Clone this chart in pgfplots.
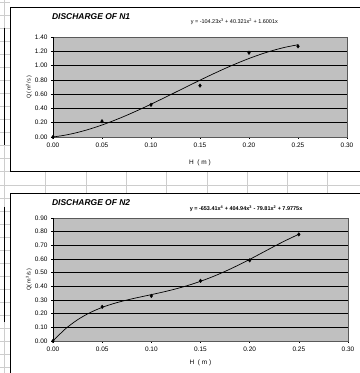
\documentclass[border=0pt]{standalone}
\usepackage{pgfplots}
\pgfplotsset{compat=1.18}
\usepackage{fontspec}
\setmainfont{Liberation Sans}
\definecolor{plotgray}{RGB}{192,192,192}
\definecolor{sheetgrid}{RGB}{205,205,205}
\pgfplotsset{
  excel/.style={
    scale only axis,
    axis background/.style={fill=plotgray},
    axis line style={draw=gray!70!black, line width=0.6bp},
    xmin=0, xmax=0.3,
    xtick={0,0.05,0.1,0.15,0.2,0.25,0.3},
    ymajorgrids,
    major grid style={black, line width=0.5bp},
    tick style={black, line width=0.5bp},
    tick align=outside,
    major tick length=2bp,
    xtick pos=bottom, ytick pos=left,
    ticklabel style={font=\fontsize{6.5}{7}\selectfont},
    /pgf/number format/assume math mode=true,
    /pgf/number format/.cd, fixed, fixed zerofill, precision=2,
    /pgfplots/.cd,
    xlabel={H \ ( m )},
    xlabel style={font=\fontsize{6.5}{7}\selectfont},
    ylabel style={font=\fontsize{5.5}{6}\selectfont},
    clip=false,
  },
  pts/.style={only marks, mark=diamond*, mark size=1.8bp, black},
  trend/.style={black, line width=0.7bp, no markers, smooth},
}
\begin{document}
\begin{tikzpicture}[x=1bp,y=1bp]
\useasboundingbox (0,0) rectangle (360,373);
\fill[white] (0,0) rectangle (360,373);
% spreadsheet grid
\begin{scope}[draw=sheetgrid, line width=0.6bp]
  \foreach \x in {45,86,126,166,207,247,287,327}
    \draw (\x,373-172) -- (\x,373-194);
  \draw (0,373-185) -- (360,373-185);
  \draw (4,0) -- (4,373);
  \foreach \r in {2,15,28,41,54,67,80,93,106,119,132,145,158,171,185,198,211,224,237,250,263,276,289,302,315,328,341,354,367}
    \draw (0,373-\r) -- (10,373-\r);
\end{scope}
\draw[black, line width=1bp] (4,373-28) -- (4,373-145);
\draw[black, line width=1bp] (4,373-207) -- (4,373-322);
% chart borders
\draw[black, line width=1bp] (362,373-8) -- (10,373-8) -- (10,373-172) -- (362,373-172);
\draw[black, line width=1bp] (362,373-194) -- (10,373-194) -- (10,-2);

% Chart 1
\begin{axis}[excel,
  at={(53bp,236bp)}, anchor=south west,
  width=294bp, height=100bp,
  ymin=0, ymax=1.4, ytick={0,0.2,...,1.4},
  ylabel={Q( m\textsuperscript{3}/s )},
  ylabel style={at={(axis description cs:-0.06,0.5)}},
  xlabel style={at={(axis description cs:0.5,-0.19)}},
]
\addplot[trend] coordinates {
(0,0) (0.0125,0.0261) (0.025,0.0636) (0.0375,0.1112) (0.05,0.1678)
(0.0625,0.2321) (0.075,0.3028) (0.0875,0.3789) (0.1,0.4590)
(0.1125,0.5419) (0.125,0.6264) (0.1375,0.7113) (0.15,0.7954)
(0.1625,0.8774) (0.175,0.9562) (0.1875,1.0304) (0.2,1.0990)
(0.2125,1.1606) (0.225,1.2140) (0.2375,1.2581) (0.25,1.2915)};
\addplot[pts] coordinates {
(0,0) (0.05,0.22) (0.10,0.45) (0.15,0.72) (0.20,1.18) (0.25,1.27)};
\draw[black, line width=0.6bp] (axis cs:0,0) -- (axis cs:0,1.4);
\node[anchor=west, font=\bfseries\itshape\fontsize{8.5}{9}\selectfont] at (axis cs:-0.0045,1.68) {DISCHARGE OF N1};
\node[anchor=west, font=\fontsize{5.5}{6}\selectfont] at (axis cs:0.137,1.61) {y = -104.23x\textsuperscript{3} + 40.321x\textsuperscript{2} + 1.6001x};
\end{axis}

% Chart 2
\begin{axis}[excel,
  at={(53bp,32bp)}, anchor=south west,
  width=295bp, height=123bp,
  ymin=0, ymax=0.9, ytick={0,0.1,...,0.9},
  ylabel={Q( m\textsuperscript{3}/s )},
  ylabel style={at={(axis description cs:-0.06,0.5)}},
  xlabel style={at={(axis description cs:0.5,-0.125)}},
]
\addplot[trend] coordinates {
(0,0) (0.0125,0.0880) (0.025,0.1555) (0.0375,0.2070) (0.05,0.2459)
(0.0625,0.2757) (0.075,0.2996) (0.0875,0.3200) (0.1,0.3393)
(0.1125,0.3593) (0.125,0.3815) (0.1375,0.4071) (0.15,0.4368)
(0.1625,0.4709) (0.175,0.5093) (0.1875,0.5517) (0.2,0.5972)
(0.2125,0.6447) (0.225,0.6927) (0.2375,0.7385) (0.25,0.7811)};
\addplot[pts] coordinates {
(0,0) (0.05,0.25) (0.10,0.33) (0.15,0.44) (0.20,0.59) (0.25,0.78)};
\draw[black, line width=0.6bp] (axis cs:0,0) -- (axis cs:0,0.9);
\node[anchor=west, font=\bfseries\itshape\fontsize{8.5}{9}\selectfont] at (axis cs:-0.0045,1.01) {DISCHARGE OF N2};
\node[anchor=west, font=\bfseries\fontsize{5.5}{6}\selectfont] at (axis cs:0.1355,0.965) {y = -653.41x\textsuperscript{4} + 404.94x\textsuperscript{3} - 79.81x\textsuperscript{2} + 7.9775x};
\end{axis}
\end{tikzpicture}
\end{document}
